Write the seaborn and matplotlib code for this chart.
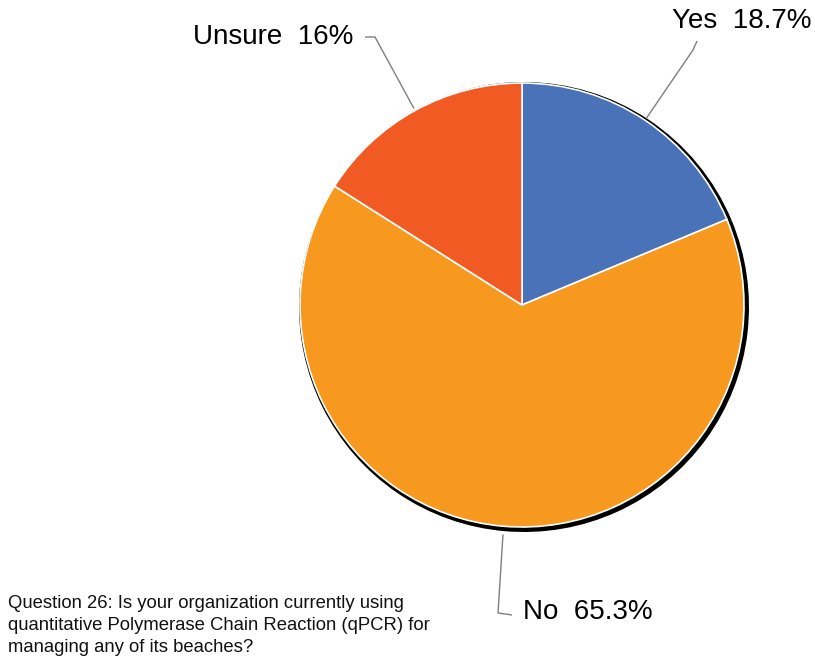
import numpy as np
import matplotlib
matplotlib.use("Agg")
import matplotlib.pyplot as plt
import seaborn as sns

# Survey responses
categories = ["Yes", "No", "Unsure"]
percentages = [18.7, 65.3, 16.0]
colors = ["#4A72B8", "#F7981F", "#F15A22"]
question = ("Question 26: Is your organization currently using\n"
            "quantitative Polymerase Chain Reaction (qPCR) for\n"
            "managing any of its beaches?")

sns.set_style("white")
plt.rcParams["font.family"] = ["Liberation Sans", "DejaVu Sans"]

W, H = 815, 662
fig = plt.figure(figsize=(W / 100, H / 100), dpi=100)
ax = fig.add_axes([0, 0, 1, 1])

cx, cy, r = 522, H - 305, 222

# drop shadow: slightly larger dark disc, nudged down and right
ax.pie(percentages, colors=["black"] * len(percentages), startangle=90,
       counterclock=False, center=(cx + 2, cy - 2), radius=r + 3,
       wedgeprops=dict(linewidth=0), frame=True)
wedges, _ = ax.pie(percentages, colors=colors, startangle=90,
                   counterclock=False, center=(cx, cy), radius=r,
                   wedgeprops=dict(edgecolor="white", linewidth=1.2),
                   frame=True)
ax.set_xlim(0, W)
ax.set_ylim(0, H)
ax.set_aspect("equal")
ax.axis("off")

# leader elbows and label anchors (pixel layout, y measured from top)
layout = {
    "Yes": dict(elbow=[(693, 50), (697, 41)], text=(672, 21), ha="left"),
    "Unsure": dict(elbow=[(375, 37), (365, 37)], text=(353, 37), ha="right"),
    "No": dict(elbow=[(498, 613), (512, 615)], text=(523, 612), ha="left"),
}

for w, name, pct in zip(wedges, categories, percentages):
    mid = np.deg2rad((w.theta1 + w.theta2) / 2)
    ex = cx + r * 1.01 * np.cos(mid)
    ey = cy + r * 1.01 * np.sin(mid)
    if name == "No":
        ey -= 6
    cfg = layout[name]
    xs = [ex] + [p[0] for p in cfg["elbow"]]
    ys = [ey] + [H - p[1] for p in cfg["elbow"]]
    ax.plot(xs, ys, color="#7F7F7F", linewidth=1.0, solid_capstyle="butt")
    ax.text(cfg["text"][0], H - cfg["text"][1], f"{name}  {pct:g}%",
            ha=cfg["ha"], va="center", fontsize=20, color="black")

ax.text(8, H - 595, question, ha="left", va="top", fontsize=13.3,
        color="#111111", linespacing=1.38)

fig.savefig("out.png", dpi=100)
